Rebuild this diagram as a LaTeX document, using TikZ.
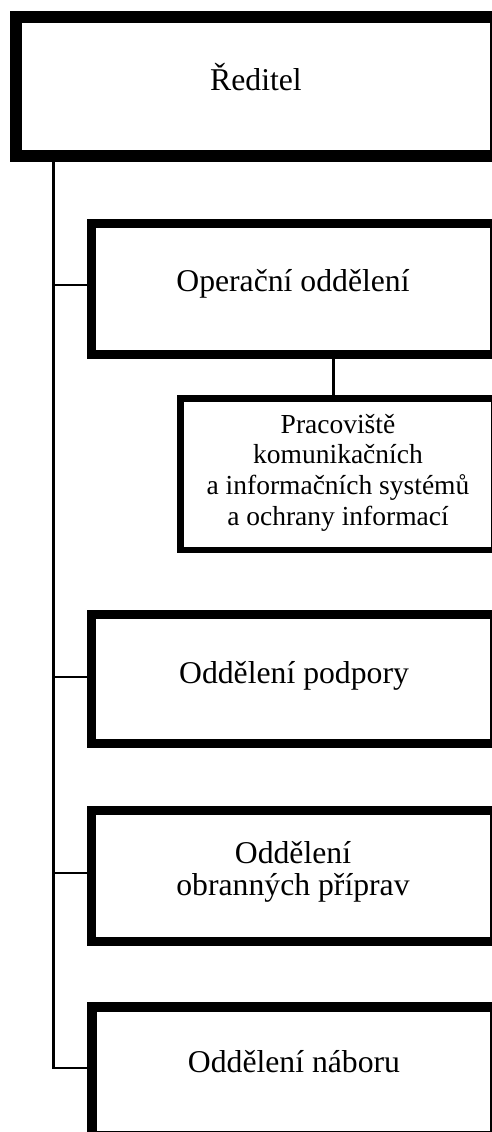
\documentclass[tikz,border=0pt]{standalone}
\usepackage{fontspec}
\setmainfont{Liberation Serif}
\begin{document}
\begin{tikzpicture}[x=1pt,y=-1pt,
  box/.style={draw=black, fill=white, rectangle, inner sep=0pt},
  big/.style={font=\fontsize{31.7}{32}\selectfont, align=center},
  small/.style={font=\fontsize{27.5}{30.6}\selectfont, align=center},
  conn/.style={draw=black, line width=2.6pt}]
\useasboundingbox (0,0) rectangle (492,1132);
\clip (0,0) rectangle (492,1132);

% boxes
\node[box, line width=12pt, minimum width=480pt, minimum height=139pt] (dir) at (256,86.5) {};
\node[box, line width=9pt, minimum width=403pt, minimum height=131pt] (op) at (293,289) {};
\node[box, line width=6.5pt, minimum width=313.5pt, minimum height=151.5pt] (pr) at (337,474) {};
\node[box, line width=9pt, minimum width=403pt, minimum height=129pt] (pod) at (293,679) {};
\node[box, line width=9pt, minimum width=403pt, minimum height=131pt] (obr) at (293,876) {};
\node[box, line width=9.5pt, minimum width=402.5pt, minimum height=129pt] (nab) at (293,1071.25) {};

% texts (multi-line nodes: base = baseline of last line)
\node[big, anchor=base] (tdir) at (256,90) {Ředitel};
\node[big, anchor=base] (top) at (293,291) {Operační oddělení};
\node[small, anchor=base] (tpr) at (338,525) {Pracoviště\\komunikačních\\a informačních systémů\\a ochrany informací};
\node[big, anchor=base] (tpod) at (294,683) {Oddělení podpory};
\node[big, anchor=base] (tobr) at (293,895) {Oddělení\\obranných příprav};
\node[big, anchor=base] (tnab) at (294,1072) {Oddělení náboru};

% connectors
\coordinate (tx) at (53.5,0);
\coordinate (sx) at (333,0);
\coordinate (opc) at ([yshift=4pt]op.west);
\coordinate (podc) at ([yshift=2pt]pod.west);
\coordinate (obrc) at ([yshift=3pt]obr.west);
\coordinate (nabc) at ([yshift=3.25pt]nab.west);
\draw[conn] (tx |- dir.south) |- (nabc);
\draw[conn] (tx |- opc) -- (opc);
\draw[conn] (tx |- podc) -- (podc);
\draw[conn] (tx |- obrc) -- (obrc);
\draw[conn, line width=3pt] (sx |- op.south) -- (sx |- pr.north);
\end{tikzpicture}
\end{document}
